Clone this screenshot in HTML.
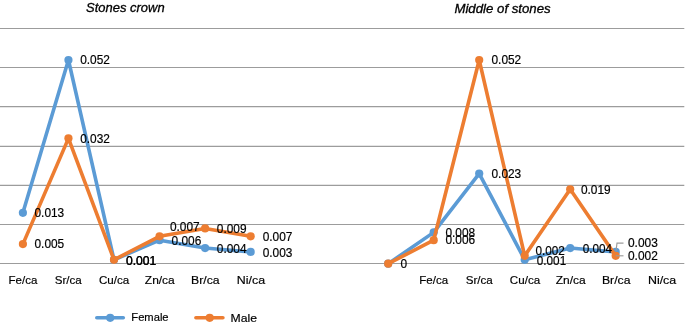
<!DOCTYPE html>
<html><head><meta charset="utf-8"><title>Stones chart</title>
<style>
html,body{margin:0;padding:0;background:#fff;}
svg{display:block;}
text{font-family:"Liberation Sans",sans-serif;fill:#000;stroke:#000;stroke-width:0.18px;}
.d{font-size:11.9px;}
.a{font-size:11.6px;}
.h{opacity:0.85;}
.t{font-size:12.8px;font-style:italic;stroke:#000;stroke-width:0.3px;}
</style></head><body>
<svg width="685" height="326" viewBox="0 0 685 326">
<rect width="685" height="326" fill="#fff"/>
<line x1="0" x2="684.3" y1="28.50" y2="28.50" stroke="#9c9c9c" stroke-width="1.18"/>
<line x1="0" x2="684.3" y1="67.50" y2="67.50" stroke="#9c9c9c" stroke-width="1.18"/>
<line x1="0" x2="684.3" y1="106.65" y2="106.65" stroke="#9c9c9c" stroke-width="1.18"/>
<line x1="0" x2="684.3" y1="146.35" y2="146.35" stroke="#9c9c9c" stroke-width="1.18"/>
<line x1="0" x2="684.3" y1="185.40" y2="185.40" stroke="#9c9c9c" stroke-width="1.18"/>
<line x1="0" x2="684.3" y1="224.50" y2="224.50" stroke="#9c9c9c" stroke-width="1.18"/>
<line x1="0" x2="684.3" y1="263.50" y2="263.50" stroke="#9c9c9c" stroke-width="1.18"/>
<polyline points="22.90,212.78 68.45,60.02 114.00,259.78 159.55,240.20 205.10,248.03 250.65,251.95" fill="none" stroke="#5B9BD5" stroke-width="3.6" stroke-linejoin="round" stroke-linecap="round"/>
<circle cx="22.90" cy="212.78" r="4.1" fill="#5B9BD5"/>
<circle cx="68.45" cy="60.02" r="4.1" fill="#5B9BD5"/>
<circle cx="114.00" cy="259.78" r="4.1" fill="#5B9BD5"/>
<circle cx="159.55" cy="240.20" r="4.1" fill="#5B9BD5"/>
<circle cx="205.10" cy="248.03" r="4.1" fill="#5B9BD5"/>
<circle cx="250.65" cy="251.95" r="4.1" fill="#5B9BD5"/>
<polyline points="22.90,244.11 68.45,138.36 114.00,259.78 159.55,236.28 205.10,228.45 250.65,236.28" fill="none" stroke="#ED7D31" stroke-width="3.6" stroke-linejoin="round" stroke-linecap="round"/>
<circle cx="22.90" cy="244.11" r="4.1" fill="#ED7D31"/>
<circle cx="68.45" cy="138.36" r="4.1" fill="#ED7D31"/>
<circle cx="114.00" cy="259.78" r="4.1" fill="#ED7D31"/>
<circle cx="159.55" cy="236.28" r="4.1" fill="#ED7D31"/>
<circle cx="205.10" cy="228.45" r="4.1" fill="#ED7D31"/>
<circle cx="250.65" cy="236.28" r="4.1" fill="#ED7D31"/>
<polyline points="388.20,263.70 433.70,232.36 479.20,173.61 524.70,259.78 570.20,248.03 615.70,251.95" fill="none" stroke="#5B9BD5" stroke-width="3.6" stroke-linejoin="round" stroke-linecap="round"/>
<circle cx="388.20" cy="263.70" r="4.1" fill="#5B9BD5"/>
<circle cx="433.70" cy="232.36" r="4.1" fill="#5B9BD5"/>
<circle cx="479.20" cy="173.61" r="4.1" fill="#5B9BD5"/>
<circle cx="524.70" cy="259.78" r="4.1" fill="#5B9BD5"/>
<circle cx="570.20" cy="248.03" r="4.1" fill="#5B9BD5"/>
<circle cx="615.70" cy="251.95" r="4.1" fill="#5B9BD5"/>
<polyline points="388.20,263.70 433.70,240.20 479.20,60.02 524.70,255.87 570.20,189.28 615.70,255.87" fill="none" stroke="#ED7D31" stroke-width="3.6" stroke-linejoin="round" stroke-linecap="round"/>
<circle cx="388.20" cy="263.70" r="4.1" fill="#ED7D31"/>
<circle cx="433.70" cy="240.20" r="4.1" fill="#ED7D31"/>
<circle cx="479.20" cy="60.02" r="4.1" fill="#ED7D31"/>
<circle cx="524.70" cy="255.87" r="4.1" fill="#ED7D31"/>
<circle cx="570.20" cy="189.28" r="4.1" fill="#ED7D31"/>
<circle cx="615.70" cy="255.87" r="4.1" fill="#ED7D31"/>
<polyline points="616.0,251.0 617.0,243.1 623.5,243.1" fill="none" stroke="#9c9c9c" stroke-width="1.15"/>
<line x1="615.6" y1="255.8" x2="623.5" y2="255.8" stroke="#9c9c9c" stroke-width="1.15"/>
<text class="d" x="34.50" y="216.85" textLength="29.7" lengthAdjust="spacingAndGlyphs">0.013</text>
<text class="d" x="80.20" y="64.35" textLength="29.7" lengthAdjust="spacingAndGlyphs">0.052</text>
<text class="d" x="126.00" y="264.65" textLength="30.3" lengthAdjust="spacingAndGlyphs">0.001</text>
<text class="d" x="171.60" y="244.75" textLength="29.7" lengthAdjust="spacingAndGlyphs">0.006</text>
<text class="d" x="216.80" y="252.95" textLength="29.7" lengthAdjust="spacingAndGlyphs">0.004</text>
<text class="d" x="262.70" y="256.65" textLength="29.7" lengthAdjust="spacingAndGlyphs">0.003</text>
<text class="d" x="34.50" y="248.25" textLength="29.7" lengthAdjust="spacingAndGlyphs">0.005</text>
<text class="d" x="80.20" y="142.55" textLength="29.7" lengthAdjust="spacingAndGlyphs">0.032</text>
<text class="d h" x="126.00" y="264.65" textLength="30.3" lengthAdjust="spacingAndGlyphs">0.001</text>
<text class="d" x="169.90" y="231.15" textLength="29.7" lengthAdjust="spacingAndGlyphs">0.007</text>
<text class="d" x="216.80" y="233.35" textLength="29.7" lengthAdjust="spacingAndGlyphs">0.009</text>
<text class="d" x="262.70" y="240.75" textLength="29.7" lengthAdjust="spacingAndGlyphs">0.007</text>
<text class="d" x="445.40" y="236.75" textLength="29.7" lengthAdjust="spacingAndGlyphs">0.008</text>
<text class="d" x="491.50" y="177.85" textLength="29.7" lengthAdjust="spacingAndGlyphs">0.023</text>
<text class="d" x="536.80" y="264.95" textLength="29.4" lengthAdjust="spacingAndGlyphs">0.001</text>
<text class="d" x="582.70" y="252.55" textLength="29.4" lengthAdjust="spacingAndGlyphs">0.004</text>
<text class="d" x="628.00" y="247.35" textLength="29.8" lengthAdjust="spacingAndGlyphs">0.003</text>
<text class="d" x="400.50" y="268.25">0</text>
<text class="d" x="445.40" y="244.35" textLength="29.7" lengthAdjust="spacingAndGlyphs">0.006</text>
<text class="d" x="491.50" y="64.35" textLength="29.7" lengthAdjust="spacingAndGlyphs">0.052</text>
<text class="d" x="535.50" y="255.05" textLength="29.4" lengthAdjust="spacingAndGlyphs">0.002</text>
<text class="d" x="580.90" y="193.55" textLength="29.7" lengthAdjust="spacingAndGlyphs">0.019</text>
<text class="d" x="628.00" y="259.85" textLength="29.8" lengthAdjust="spacingAndGlyphs">0.002</text>
<text class="a" x="22.90" y="284.2" text-anchor="middle" textLength="28.8" lengthAdjust="spacingAndGlyphs">Fe/ca</text>
<text class="a" x="68.30" y="284.2" text-anchor="middle" textLength="27.0" lengthAdjust="spacingAndGlyphs">Sr/ca</text>
<text class="a" x="114.10" y="284.2" text-anchor="middle" textLength="30.35" lengthAdjust="spacingAndGlyphs">Cu/ca</text>
<text class="a" x="159.80" y="284.2" text-anchor="middle" textLength="29.9" lengthAdjust="spacingAndGlyphs">Zn/ca</text>
<text class="a" x="205.30" y="284.2" text-anchor="middle" textLength="28.5" lengthAdjust="spacingAndGlyphs">Br/ca</text>
<text class="a" x="250.90" y="284.2" text-anchor="middle" textLength="28.3" lengthAdjust="spacingAndGlyphs">Ni/ca</text>
<text class="a" x="433.70" y="284.2" text-anchor="middle" textLength="28.8" lengthAdjust="spacingAndGlyphs">Fe/ca</text>
<text class="a" x="479.20" y="284.2" text-anchor="middle" textLength="27.0" lengthAdjust="spacingAndGlyphs">Sr/ca</text>
<text class="a" x="525.00" y="284.2" text-anchor="middle" textLength="30.35" lengthAdjust="spacingAndGlyphs">Cu/ca</text>
<text class="a" x="570.65" y="284.2" text-anchor="middle" textLength="29.9" lengthAdjust="spacingAndGlyphs">Zn/ca</text>
<text class="a" x="616.20" y="284.2" text-anchor="middle" textLength="28.5" lengthAdjust="spacingAndGlyphs">Br/ca</text>
<text class="a" x="662.10" y="284.2" text-anchor="middle" textLength="28.3" lengthAdjust="spacingAndGlyphs">Ni/ca</text>
<text class="t" x="86.1" y="11.6" textLength="78.5" lengthAdjust="spacingAndGlyphs">Stones crown</text>
<text class="t" x="454.4" y="12.5" textLength="96.3" lengthAdjust="spacingAndGlyphs">Middle of stones</text>
<line x1="96.8" x2="123.3" y1="317.8" y2="317.8" stroke="#5B9BD5" stroke-width="3.6" stroke-linecap="round"/><circle cx="110.2" cy="317.8" r="4.1" fill="#5B9BD5"/>
<text class="a" x="131.3" y="321.3" textLength="37.3" lengthAdjust="spacingAndGlyphs">Female</text>
<line x1="195.9" x2="222.9" y1="317.8" y2="317.8" stroke="#ED7D31" stroke-width="3.6" stroke-linecap="round"/><circle cx="209.7" cy="317.8" r="4.1" fill="#ED7D31"/>
<text class="a" x="230.6" y="322.0" textLength="26.5" lengthAdjust="spacingAndGlyphs">Male</text>
</svg></body></html>
